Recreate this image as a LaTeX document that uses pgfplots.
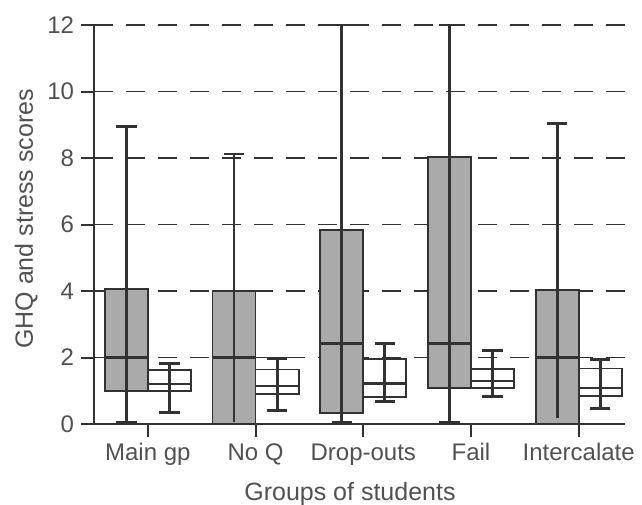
\documentclass[border=0pt]{standalone}
\usepackage{pgfplots}
\pgfplotsset{compat=1.18}
\usepgfplotslibrary{statistics}
\usepackage{fontspec}
\setmainfont{Liberation Sans}
\definecolor{ink}{RGB}{50,50,50}
\definecolor{boxgray}{RGB}{170,170,170}

\pgfplotsset{
  mybox/.style={
    boxplot/draw direction=y,
    boxplot/box extend=0.4,
    boxplot/whisker extend=0.19,
    boxplot/draw/box/.code={%
      \draw[/pgfplots/boxplot/every box/.try]
        (boxplot box cs:\pgfplotsboxplotvalue{lower quartile},0) rectangle
        (boxplot box cs:\pgfplotsboxplotvalue{upper quartile},1);
      \draw[/pgfplots/boxplot/every median/.try]
        (boxplot box cs:\pgfplotsboxplotvalue{median},0) --
        (boxplot box cs:\pgfplotsboxplotvalue{median},1);
      \draw[/pgfplots/boxplot/every whisker/.try]
        (boxplot box cs:\pgfplotsboxplotvalue{lower whisker},0.5) --
        (boxplot box cs:\pgfplotsboxplotvalue{upper whisker},0.5);
    },
    boxplot/draw/median/.code={},
    boxplot/draw/lower whisker/.code={%
      \draw[/pgfplots/boxplot/every whisker/.try]
        (boxplot whisker cs:\pgfplotsboxplotvalue{lower whisker},0) --
        (boxplot whisker cs:\pgfplotsboxplotvalue{lower whisker},1);
    },
    boxplot/draw/upper whisker/.code={%
      \draw[/pgfplots/boxplot/every whisker/.try]
        (boxplot whisker cs:\pgfplotsboxplotvalue{upper whisker},0) --
        (boxplot whisker cs:\pgfplotsboxplotvalue{upper whisker},1);
    },
    boxplot/every whisker/.style={line width=2.2pt},
    boxplot/every median/.style={line width=2.2pt},
  },
  graybox/.style={mybox, draw=ink, boxplot/every box/.style={fill=boxgray, line width=1.4pt}},
  whitebox/.style={mybox, draw=ink, boxplot/every box/.style={fill=white, line width=1.4pt},
    boxplot/every median/.style={line width=1.6pt}},
}

\begin{document}
\begin{tikzpicture}
\begin{axis}[
  scale only axis,
  width=398.25pt, height=299.25pt,
  xmin=-0.5, xmax=4.43,
  ymin=0, ymax=12,
  clip=false,
  axis x line=bottom, axis y line=left,
  axis line style={-, line width=2pt, ink},
  xtick={0,1,2,3,4},
  xticklabels={Main gp, No Q, Drop-outs, Fail, Intercalate},
  ytick={0,2,4,6,8,10,12},
  tick align=outside,
  major tick length=9.5pt,
  tick style={line width=1.5pt, ink},
  ymajorgrids,
  grid style={ink, line width=1.4pt, dash pattern=on 14pt off 10pt},
  /pgf/number format/assume math mode=true,
  ticklabel style={font=\fontsize{18}{20}\selectfont, text=ink!85},
  xticklabel style={anchor=base, yshift=-17.5pt},
  yticklabel style={xshift=-2pt},
  every axis x label/.style={at={(rel axis cs:0.482,0)}, anchor=base, yshift=-57pt},
  every axis y label/.style={at={(rel axis cs:0,0.514)}, xshift=-45.75pt, rotate=90, anchor=base},
  label style={font=\fontsize{18.75}{22}\selectfont, text=ink!85},
  xlabel={Groups of students},
  ylabel={GHQ and stress scores},
]
% Main gp
\addplot[graybox, boxplot prepared={draw position=-0.2, lower whisker=0.05, lower quartile=1.0, median=2.0, upper quartile=4.05, upper whisker=8.95}] coordinates {};
\addplot[whitebox, boxplot prepared={draw position=0.2, lower whisker=0.35, lower quartile=1.0, median=1.2, upper quartile=1.62, upper whisker=1.83}] coordinates {};
% No Q
\addplot[graybox, boxplot prepared={draw position=0.8, lower whisker=0.05, lower quartile=0.0, median=2.0, upper quartile=4.0, upper whisker=8.12}] coordinates {};
\addplot[whitebox, boxplot prepared={draw position=1.2, lower whisker=0.42, lower quartile=0.89, median=1.14, upper quartile=1.64, upper whisker=1.98}] coordinates {};
% Drop-outs
\addplot[graybox, boxplot prepared={draw position=1.8, lower whisker=0.05, lower quartile=0.32, median=2.43, upper quartile=5.83, upper whisker=12.0}] coordinates {};
\addplot[whitebox, boxplot prepared={draw position=2.2, lower whisker=0.67, lower quartile=0.82, median=1.22, upper quartile=1.95, upper whisker=2.43}] coordinates {};
% Fail
\addplot[graybox, boxplot prepared={draw position=2.8, lower whisker=0.05, lower quartile=1.07, median=2.43, upper quartile=8.02, upper whisker=12.0}] coordinates {};
\addplot[whitebox, boxplot prepared={draw position=3.2, lower whisker=0.82, lower quartile=1.07, median=1.3, upper quartile=1.65, upper whisker=2.2}] coordinates {};
% Intercalate
\addplot[graybox, boxplot prepared={draw position=3.8, lower whisker=0.17, lower quartile=0.0, median=2.0, upper quartile=4.03, upper whisker=9.04}] coordinates {};
\addplot[whitebox, boxplot prepared={draw position=4.2, lower whisker=0.47, lower quartile=0.85, median=1.09, upper quartile=1.67, upper whisker=1.95}] coordinates {};
\path (rel axis cs:0,0) coordinate (O);
\end{axis}
\pgfresetboundingbox
\path[use as bounding box] ([shift={(-70.5pt,-60pt)}]O) rectangle ([shift={(411pt,318pt)}]O);
\end{tikzpicture}
\end{document}
